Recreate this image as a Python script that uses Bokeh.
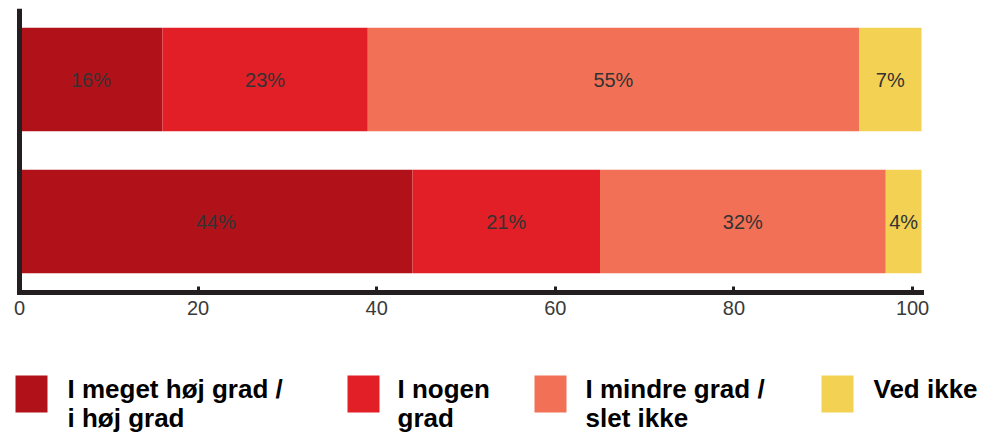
from bokeh.plotting import figure
from bokeh.layouts import column
from bokeh.models import Range1d, FixedTicker, ColumnDataSource, Span
from bokeh.core.properties import value
from bokeh.embed import file_html
from bokeh.resources import INLINE

# ---- data ----
categories = ["I meget høj grad / i høj grad", "I nogen grad", "I mindre grad / slet ikke", "Ved ikke"]
legend_line1 = ["I meget høj grad /", "I nogen", "I mindre grad /", "Ved ikke"]
legend_line2 = ["i høj grad", "grad", "slet ikke", ""]
colors = ["#B11219", "#E21F26", "#F27055", "#F3D152"]
rows = ["top", "bottom"]
row_pos = [1.5, 0.5]
top_values = [16, 23, 55, 7]
bottom_values = [44, 21, 32, 4]
x_ticks = [0, 20, 40, 60, 80, 100]
x_max = 101

series = [top_values, bottom_values]

FONT = value("Liberation Sans")

# layout constants (pixels)
W = 1000
plot_left_px, plot_right_px = 19, 921
px_per_unit = (plot_right_px - plot_left_px) / x_max
x0 = -plot_left_px / px_per_unit
x1 = x0 + W / px_per_unit

p = figure(frame_width=W, frame_height=284,
           x_range=Range1d(x0, x1), y_range=Range1d(0, 2),
           output_backend="svg", toolbar_location=None,
           min_border_left=0, min_border_right=0,
           min_border_top=8, min_border_bottom=36)
p.outline_line_color = None
p.xgrid.visible = False
p.ygrid.visible = False
p.yaxis.visible = False
p.background_fill_color = "white"

lefts, rights, ys, fills, labels, mids = [], [], [], [], [], []
for vals, yp in zip(series, row_pos):
    acc = 0
    for v, c in zip(vals, colors):
        lefts.append(acc)
        rights.append(acc + v)
        mids.append(acc + v / 2)
        ys.append(yp)
        fills.append(c)
        labels.append(f"{v}%")
        acc += v

src = ColumnDataSource(dict(left=lefts, right=rights, y=ys, fill=fills, label=labels, mid=mids))
p.hbar(y="y", left="left", right="right", height=0.73, fill_color="fill",
       line_color=None, source=src)
p.text(x="mid", y="y", text="label", source=src, text_align="center",
       text_baseline="middle", text_font=FONT, text_font_size="20px",
       text_color="#333333")

# y axis line
p.add_layout(Span(location=0, dimension="height", line_color="#231f20", line_width=5))

xa = p.xaxis[0]
xa.ticker = FixedTicker(ticks=x_ticks)
xa.bounds = (0, x_max)
xa.axis_line_width = 5
xa.axis_line_color = "#231f20"
xa.axis_line_cap = "square"
xa.major_tick_in = 6
xa.major_tick_out = 0
xa.major_tick_line_width = 3
xa.major_tick_line_color = "#231f20"
xa.minor_tick_line_color = None
xa.major_label_standoff = 8
xa.major_label_text_font = "Liberation Sans"
xa.major_label_text_font_size = "20px"
xa.major_label_text_color = "#3a3a3a"

# ---- legend figure (coordinates in page pixels) ----
leg = figure(frame_width=W, frame_height=104,
             x_range=Range1d(0, W), y_range=Range1d(432, 328),
             output_backend="svg", toolbar_location=None,
             x_axis_type=None, y_axis_type=None,
             min_border_left=0, min_border_right=0,
             min_border_top=0, min_border_bottom=0)
leg.outline_line_color = None
leg.xgrid.visible = False
leg.ygrid.visible = False

sq_left = [15, 347, 534, 821]
txt_left = [67, 397, 585, 873]
sq_w, sq_h, sq_top = 32, 37, 375

leg.rect(x=[s + sq_w / 2 for s in sq_left], y=[sq_top + sq_h / 2] * 4,
         width=sq_w, height=sq_h, fill_color=colors, line_color=None)
leg.text(x=txt_left, y=[388] * 4, text=legend_line1, text_font=FONT,
         text_font_style="bold", text_font_size="26px", text_color="#000000",
         text_baseline="middle", text_align="left")
leg.text(x=txt_left, y=[417] * 4, text=legend_line2, text_font=FONT,
         text_font_style="bold", text_font_size="26px", text_color="#000000",
         text_baseline="middle", text_align="left")

layout = column(p, leg, spacing=0)
open("out.html", "w").write(file_html(layout, INLINE))
